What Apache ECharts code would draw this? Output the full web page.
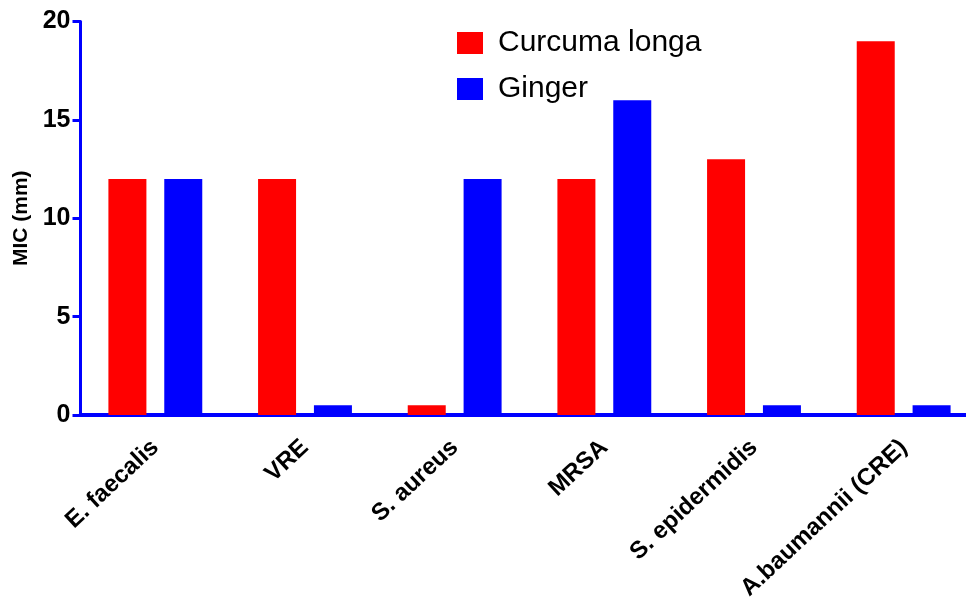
<!DOCTYPE html>
<html>
<head>
<meta charset="utf-8">
<script src="https://cdn.jsdelivr.net/npm/echarts@6/dist/echarts.min.js"></script>
<style>
html,body{margin:0;padding:0;background:#fff;overflow:hidden;}
#chart{width:990px;height:600px;}
</style>
</head>
<body>
<div id="chart"></div>
<script>
var categories = ['E. faecalis', 'VRE', 'S. aureus', 'MRSA', 'S. epidermidis', 'A.baumannii (CRE)'];
var curcumaValues = [12, 12, 0.5, 12, 13, 19];
var gingerValues = [12, 0.5, 12, 16, 0.5, 0.5];
var seriesNames = ['Curcuma longa', 'Ginger'];
var yTicks = [0, 5, 10, 15, 20];

var FONT = '"Liberation Sans", Arial, sans-serif';
var chart = echarts.init(document.getElementById('chart'), null, {renderer: 'canvas'});
chart.setOption({
  animation: false,
  backgroundColor: '#ffffff',
  grid: {left: 80.5, top: 21.5, width: 898, height: 393.5, containLabel: false, outerBoundsMode: 'none'},
  legend: {
    orient: 'vertical',
    left: 452, top: 23,
    itemWidth: 26, itemHeight: 22, itemGap: 16,
    icon: 'rect',
    textStyle: {fontFamily: FONT, fontSize: 30, color: '#000', padding: [0, 0, 0, 10]},
    data: seriesNames
  },
  xAxis: {
    type: 'category',
    data: categories,
    axisLine: {lineStyle: {color: '#0000ff', width: 4}},
    axisTick: {alignWithLabel: true, length: 5, lineStyle: {color: '#0000ff', width: 3}},
    axisLabel: {rotate: 43, margin: 29, interval: 0, color: '#000', fontFamily: FONT, fontWeight: 'bold', fontSize: 24}
  },
  yAxis: {
    type: 'value',
    min: yTicks[0], max: yTicks[yTicks.length - 1], interval: 5,
    name: 'MIC (mm)',
    nameLocation: 'middle',
    nameGap: 42,
    nameTextStyle: {fontFamily: FONT, fontWeight: 'bold', fontSize: 21, color: '#000'},
    axisLine: {show: true, lineStyle: {color: '#0000ff', width: 3}},
    axisTick: {show: true, length: 8, lineStyle: {color: '#0000ff', width: 3}},
    splitLine: {show: false},
    axisLabel: {margin: 10, color: '#000', fontFamily: FONT, fontWeight: 'bold', fontSize: 25}
  },
  series: [
    {name: seriesNames[0], type: 'bar', data: curcumaValues, barWidth: 38, barGap: '47%', itemStyle: {color: '#ff0000'}},
    {name: seriesNames[1], type: 'bar', data: gingerValues, barWidth: 38, barGap: '47%', itemStyle: {color: '#0000ff'}}
  ]
});
</script>
</body>
</html>
